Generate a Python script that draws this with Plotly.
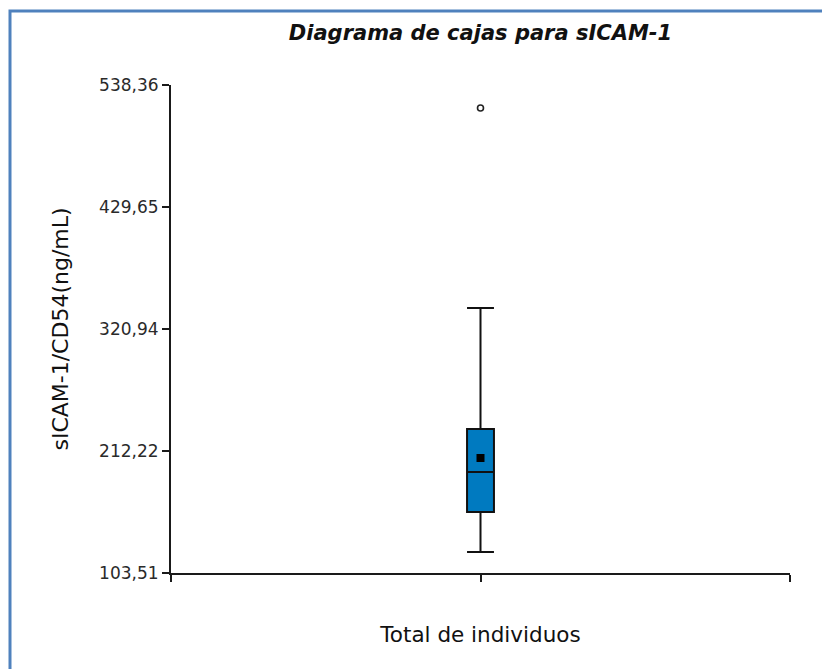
import plotly.graph_objects as go

# Summary statistics of sICAM-1 (ng/mL) for all subjects
group = "Total de individuos"
lower_fence = [122.2]
q1 = [157.9]
median = [193.5]
q3 = [231.8]
upper_fence = [339.6]
mean_value = [206.0]
outliers = [517.9]

# Y-axis scale
y_ticks = [103.51, 212.22, 320.94, 429.65, 538.36]
y_tick_text = ["103,51", "212,22", "320,94", "429,65", "538,36"]

x_pos = 1

W, H = 822, 669
ML, MR, MT, MB = 171, 32, 85, 96
PW, PH = W - ML - MR, H - MT - MB

FONT = "DejaVu Sans"
AXIS_COLOR = "#1a1a1a"
BOX_FILL = "#007AC0"
FRAME = "#4F81BD"


def px_x(p):
    return (p - ML) / PW


def px_y(p):
    return 1 - (p - MT) / PH


fig = go.Figure()

fig.add_trace(go.Box(
    x=[x_pos],
    q1=q1, median=median, q3=q3,
    lowerfence=lower_fence, upperfence=upper_fence,
    width=0.087,
    whiskerwidth=1,
    fillcolor=BOX_FILL,
    line=dict(color="#111111", width=2),
    boxpoints=False,
    showlegend=False,
    hoverinfo="skip",
))

# mean marker
fig.add_trace(go.Scatter(
    x=[x_pos] * len(mean_value), y=mean_value, mode="markers",
    marker=dict(symbol="square", size=8, color="black"),
    showlegend=False, hoverinfo="skip",
))

# outlying observations
fig.add_trace(go.Scatter(
    x=[x_pos] * len(outliers), y=outliers, mode="markers",
    marker=dict(symbol="circle-open", size=6, color="#222222",
                line=dict(width=1.6)),
    showlegend=False, hoverinfo="skip",
))

fig.update_layout(
    width=W, height=H,
    margin=dict(l=ML, r=MR, t=MT, b=MB, autoexpand=False),
    paper_bgcolor="white",
    plot_bgcolor="white",
    font=dict(family=FONT, color=AXIS_COLOR),
    title=dict(
        text="Diagrama de cajas para sICAM-1",
        font=dict(family=FONT, size=21, weight="bold", style="italic",
                  color="#111111"),
        x=0.5, xanchor="center", xref="paper",
        y=1 - 33 / H, yanchor="middle", yref="container",
    ),
    xaxis=dict(
        range=[0, 2],
        tickvals=[0, 1, 2],
        showticklabels=False,
        ticks="outside", ticklen=7, tickwidth=1.6, tickcolor=AXIS_COLOR,
        showline=True, linecolor=AXIS_COLOR, linewidth=2,
        showgrid=False, zeroline=False,
        title=dict(text=group, font=dict(family=FONT, size=21.5, color="#111111"),
                   standoff=46),
    ),
    yaxis=dict(
        range=[y_ticks[0], y_ticks[-1]],
        tickvals=y_ticks, ticktext=y_tick_text,
        ticks="outside", ticklen=7, tickwidth=1.6, tickcolor=AXIS_COLOR,
        tickfont=dict(family=FONT, size=17, color="#2a2a2a"),
        showline=True, linecolor=AXIS_COLOR, linewidth=2,
        showgrid=False, zeroline=False,
        title=dict(text="sICAM-1/CD54(ng/mL)",
                   font=dict(family=FONT, size=22, color="#111111"),
                   standoff=24),
    ),
    shapes=[
        dict(type="path", xref="paper", yref="paper",
             path=f"M {px_x(10)} {px_y(H + 5)} L {px_x(10)} {px_y(11)} L {px_x(W + 5)} {px_y(11)}",
             line=dict(color=FRAME, width=3), layer="above"),
    ],
)

fig.write_html("out.html")
